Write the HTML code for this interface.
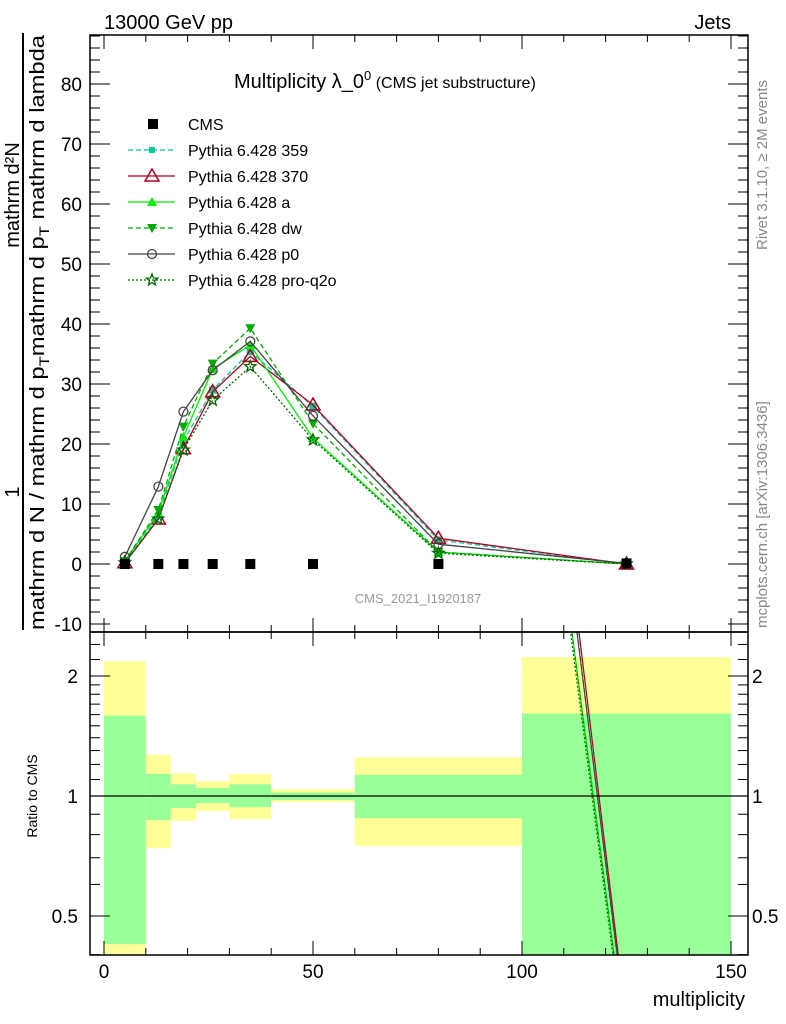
<!DOCTYPE html>
<html><head><meta charset="utf-8"><style>
html,body{margin:0;background:#fff;width:786px;height:1024px;overflow:hidden}
svg{display:block;font-family:"Liberation Sans",sans-serif}
</style></head><body>
<svg id="chart" width="786" height="1024" viewBox="0 0 786 1024" xmlns="http://www.w3.org/2000/svg">
<defs><clipPath id="rc"><rect x="90" y="632" width="658" height="323"/></clipPath></defs>
<g id="bands"></g>
<g id="ratio" clip-path="url(#rc)"></g>
<g id="main"></g>
<g id="axes"></g>
<g id="legend"></g>
<text x="104" y="29" font-size="20">13000 GeV pp</text>
<text x="731" y="29" font-size="20" text-anchor="end">Jets</text>
<text x="234" y="88" font-size="20">Multiplicity λ_0<tspan font-size="13" dy="-8">0</tspan><tspan font-size="16" dy="8"> (CMS jet substructure)</tspan></text>
<text x="418" y="603" font-size="13" fill="#999" text-anchor="middle">CMS_2021_I1920187</text>
<text transform="translate(767,250) rotate(-90)" font-size="15" fill="#888">Rivet 3.1.10, ≥ 2M events</text>
<text transform="translate(767,628) rotate(-90)" font-size="15" fill="#888">mcplots.cern.ch [arXiv:1306.3436]</text>
<g font-size="20">
<text transform="translate(19,492) rotate(-90)" text-anchor="middle">1</text>
<text transform="translate(19,195) rotate(-90)" text-anchor="middle">mathrm d²N</text>
<line x1="23" y1="630" x2="23" y2="33" stroke="#000" stroke-width="2"/>
<text transform="translate(44,630) rotate(-90)" textLength="595" lengthAdjust="spacingAndGlyphs">mathrm d N / mathrm d p<tspan font-size="14" dy="5">T</tspan><tspan dy="-5">mathrm d p</tspan><tspan font-size="14" dy="5">T</tspan><tspan dy="-5"> mathrm d lambda</tspan></text>
</g>
<text transform="translate(37,796) rotate(-90)" font-size="14" text-anchor="middle">Ratio to CMS</text>
<text x="745" y="1006" font-size="20" text-anchor="end">multiplicity</text>
</svg>
<script>
const xs=[5,13,19,26,35,50,80,125];
const binLo=[0,10,16,22,30,40,60,100];
const binHi=[10,16,22,30,40,60,100,150];
const cms=[0,0,0,0,0,0,0.0021,0.1];
const s359=[0.3,8,20.5,29,35.4,26.3,4.0,0];
const s370=[0.2,7.5,19.2,28.7,34.6,26.5,4.3,0];
const sA=[0.5,8.5,21.2,32.5,36.5,21,2,0];
const sDw=[0.5,9,22.9,33.4,39.3,23.4,2,0];
const sP0=[1.2,12.9,25.4,32.3,37.1,24.7,3.3,0.1];
const sQ2o=[0.2,7.5,19,27.3,32.9,20.7,1.8,0];
const ratioEnd=[0.25,0.27,0.23,0.23,0.26,0.22];
const yelLo=[0.3,0.74,0.866,0.917,0.875,0.966,0.75,0.3];
const yelHi=[2.18,1.27,1.14,1.09,1.136,1.04,1.25,2.23];
const grnLo=[0.425,0.87,0.933,0.96,0.938,0.977,0.88,0.3];
const grnHi=[1.59,1.136,1.07,1.047,1.07,1.02,1.13,1.61];
const yTicks=[-10,0,10,20,30,40,50,60,70,80];
const xTicks=[0,50,100,150];
const rTicks=[0.5,1,2];

const NS="http://www.w3.org/2000/svg";
const L=90,R=748,T=35,M=632,B=955;
const X=v=>104+v*4.18;
const Y=v=>564-v*6;
const RY=r=>796-Math.log2(r)*120;
function el(p,t,a){const e=document.createElementNS(NS,t);for(const k in a)e.setAttribute(k,a[k]);p.appendChild(e);return e;}
const gB=document.getElementById('bands'),gR=document.getElementById('ratio'),gM=document.getElementById('main'),gA=document.getElementById('axes'),gL=document.getElementById('legend');
const clamp=(y)=>Math.max(M,Math.min(B,y));
for(let i=0;i<binLo.length;i++){
 let y1=clamp(RY(yelHi[i])),y2=clamp(RY(yelLo[i]));
 let r=el(gB,'rect',{x:X(binLo[i]),y:y1,width:X(binHi[i])-X(binLo[i]),height:y2-y1,fill:'#ffff99'});
 
 
 y1=clamp(RY(grnHi[i]));y2=clamp(RY(grnLo[i]));
 r=el(gB,'rect',{x:X(binLo[i]),y:y1,width:X(binHi[i])-X(binLo[i]),height:y2-y1,fill:'#99ff99'});
 
 
}
const series=[
 {n:'Pythia 6.428 359',d:s359,c:'#00cc99',dash:'5,3',m:'sq'},
 {n:'Pythia 6.428 370',d:s370,c:'#aa0022',dash:'',m:'tri'},
 {n:'Pythia 6.428 a',d:sA,c:'#00ee00',dash:'',m:'ftri'},
 {n:'Pythia 6.428 dw',d:sDw,c:'#00aa00',dash:'5,3',m:'dtri'},
 {n:'Pythia 6.428 p0',d:sP0,c:'#444444',dash:'',m:'circ'},
 {n:'Pythia 6.428 pro-q2o',d:sQ2o,c:'#006600',dash:'2,2',m:'star'}];
function marker(g,t,x,y,c,s){
 s=s||1;let e;
 if(t==='sq')e=el(g,'rect',{x:x-3*s,y:y-3*s,width:6*s,height:6*s,fill:c});
 else if(t==='bsq')e=el(g,'rect',{x:x-5,y:y-5,width:10,height:10,fill:'#000'});
 else if(t==='tri')e=el(g,'polygon',{points:`${x},${y-7} ${x-7},${y+5} ${x+7},${y+5}`,fill:'none',stroke:c,'stroke-width':1.5});
 else if(t==='ftri')e=el(g,'polygon',{points:`${x},${y-5} ${x-5},${y+4} ${x+5},${y+4}`,fill:c});
 else if(t==='dtri')e=el(g,'polygon',{points:`${x},${y+5} ${x-5},${y-4} ${x+5},${y-4}`,fill:c});
 else if(t==='circ')e=el(g,'circle',{cx:x,cy:y,r:4.5,fill:'none',stroke:c,'stroke-width':1.3});
 else{let p=[];for(let k=0;k<10;k++){const a=-Math.PI/2+k*Math.PI/5,rr=k%2?2.5:6;p.push((x+rr*Math.cos(a)).toFixed(1)+','+(y+rr*Math.sin(a)).toFixed(1));}
  e=el(g,'polygon',{points:p.join(' '),fill:'none',stroke:c,'stroke-width':1.3});}
 return e;
}
series.forEach((s,j)=>{
 const pts=[];
 for(let i=0;i<xs.length;i++){ if(cms[i]>0){let r=i===xs.length-1?ratioEnd[j]:s.d[i]/cms[i];pts.push(X(xs[i])+','+RY(r));}}
 const p=el(gR,'polyline',{points:pts.join(' '),fill:'none',stroke:s.c,'stroke-width':1.2,'stroke-dasharray':s.dash});
 
 
});
el(gR,'line',{x1:L,x2:R,y1:RY(1),y2:RY(1),stroke:'#000','stroke-width':1.3});
series.forEach(s=>{
 const pts=xs.map((x,i)=>X(x)+','+Y(s.d[i])).join(' ');
 const p=el(gM,'polyline',{points:pts,fill:'none',stroke:s.c,'stroke-width':1.3,'stroke-dasharray':s.dash});
 
 
 xs.forEach((x,i)=>{const m=marker(gM,s.m,X(x),Y(s.d[i]),s.c,1.2);
  
  });
});
xs.forEach((x,i)=>{const m=marker(gM,'bsq',X(x),Y(cms[i]));
 
 });
const legItems=[{n:'CMS',m:'bsq',c:'#000',dash:null}].concat(series);
legItems.forEach((s,i)=>{
 const y=124+i*26;
 const g=el(gL,'g',{});
 
 
 if(s.dash!==null)el(g,'line',{x1:128,x2:175,y1:y,y2:y,stroke:s.c,'stroke-width':1.3,'stroke-dasharray':s.dash});
 if(s.m==='bsq')el(g,'rect',{x:148,y:y-5,width:10,height:10,fill:'#000'});else marker(g,s.m,152,y,s.c,1);
 const t=el(g,'text',{x:188,y:y+6,'font-size':16});t.textContent=s.n;
});
el(gA,'rect',{x:L,y:T,width:R-L,height:M-T,fill:'none',stroke:'#000','stroke-width':1.5});
el(gA,'rect',{x:L,y:M,width:R-L,height:B-M,fill:'none',stroke:'#000','stroke-width':1.5});
for(let v=-10;v<=88;v+=2){const y=Y(v);if(y<T||y>M)continue;const big=v%10===0;const w=big?20:10;
 el(gA,'line',{x1:L,x2:L+w,y1:y,y2:y,stroke:'#000'});el(gA,'line',{x1:R,x2:R-w,y1:y,y2:y,stroke:'#000'});}
yTicks.forEach(v=>{const t=el(gA,'text',{x:82,y:Y(v)+7,'font-size':19,'text-anchor':'end'});t.textContent=v;
 
 });
for(let v=0;v<=150;v+=10){const x=X(v);const big=v%50===0;const w=big?14:7;
 [[T,1],[M,-1],[M,1],[B,-1]].forEach(([y0,d])=>el(gA,'line',{x1:x,x2:x,y1:y0,y2:y0+d*w,stroke:'#000'}));}
xTicks.forEach(v=>{const t=el(gA,'text',{x:X(v),y:978,'font-size':19,'text-anchor':'middle'});t.textContent=v;
 
 });
[0.4,0.5,0.6,0.7,0.8,0.9,1,1.1,1.2,1.3,1.4,1.5,1.6,1.7,1.8,1.9,2,2.2,2.4].forEach(r=>{const y=RY(r);if(y<M||y>B)return;
 const big=rTicks.includes(r);const w=big?20:10;
 el(gA,'line',{x1:L,x2:L+w,y1:y,y2:y,stroke:'#000'});el(gA,'line',{x1:R,x2:R-w,y1:y,y2:y,stroke:'#000'});});
rTicks.forEach(r=>{[[78,'end'],[752,'start']].forEach(([x,a])=>{const t=el(gA,'text',{x:x,y:RY(r)+7,'font-size':19,'text-anchor':a});t.textContent=r;
 
 });});
</script>
</body></html>
